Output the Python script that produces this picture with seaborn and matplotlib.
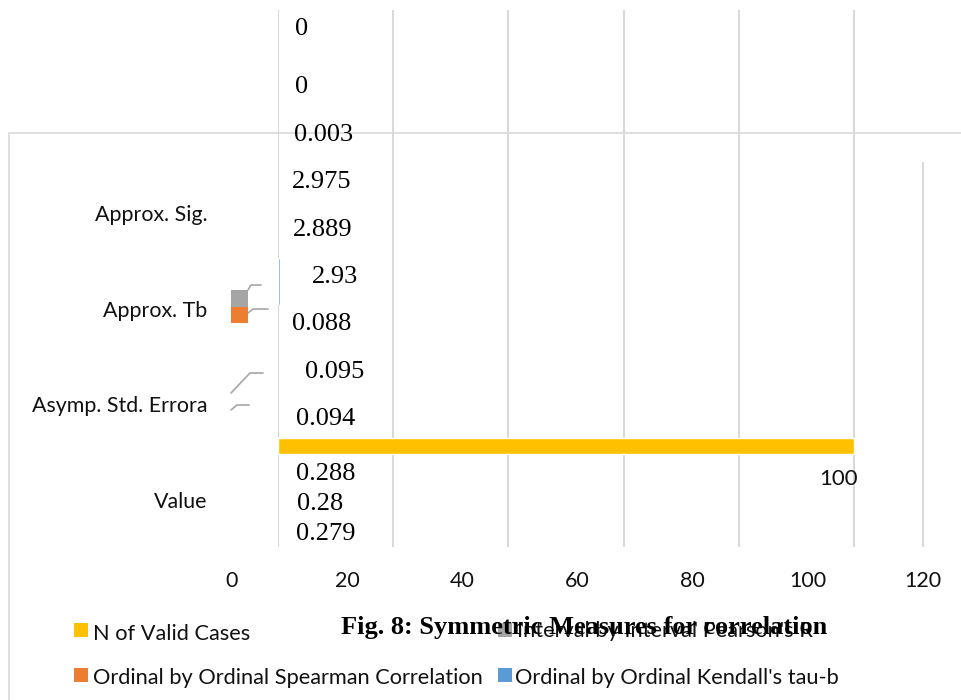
import numpy as np
import pandas as pd
import matplotlib
matplotlib.use("Agg")
import matplotlib.pyplot as plt
import matplotlib.transforms as mtransforms
from matplotlib.patches import Rectangle
from matplotlib.lines import Line2D
import seaborn as sns

# ---- data -------------------------------------------------------------
categories = ["Approx. Sig.", "Approx. Tb", "Asymp. Std. Errora", "Value"]
series = ["N of Valid Cases", "Interval by Interval Pearson's R",
          "Ordinal by Ordinal Spearman Correlation",
          "Ordinal by Ordinal Kendall's tau-b"]
series_colors = ["#FFC000", "#A5A5A5", "#ED7D31", "#5B9BD5"]

sig_values = [0, 0, 0.003]
tb_values = [2.975, 2.889, 2.93]
ase_values = [0.088, 0.095, 0.094]
value_values = [0.288, 0.28, 0.279]
n_valid = [100]
kendall_value = [0.279]

grid_values = [0, 20, 40, 60, 80, 100]
x_tick_labels = [0, 20, 40, 60, 80, 100, 120]

# ---- layout -----------------------------------------------------------
W, H = 962, 700
PLOT_L, PLOT_R, PLOT_T, PLOT_B = 278, 962, 10, 547
UNIT = 5.76          # pixels per x unit
TICK_SHIFT = 8       # the tick numbers sit left of their gridlines
GRID = "#D9D9D9"
TXT = "#111111"
SANS = ["Lato", "DejaVu Sans"]
SERIF = ["Liberation Serif", "DejaVu Serif"]

sns.set_theme(style="white")
plt.rcParams["font.family"] = SANS

fig = plt.figure(figsize=(W / 100, H / 100), dpi=100)
fig.patch.set_facecolor("white")


def fx(px):
    return px / W


def fy(py):
    return 1 - py / H


def strip_axes(a, xmax):
    a.set_xlim(0, xmax)
    for s in a.spines.values():
        s.set_visible(False)
    a.patch.set_visible(False)


def band_axes(top, bottom):
    return fig.add_axes([fx(PLOT_L), fy(bottom), (PLOT_R - PLOT_L) / W,
                         (bottom - top) / H])


xmax = (PLOT_R - PLOT_L) / UNIT

# main axes: gridlines and category labels
ax = band_axes(PLOT_T, PLOT_B)
strip_axes(ax, xmax)
ax.set_xticks(grid_values)
ax.grid(axis="x", color=GRID, lw=1.5)
ax.grid(axis="y", visible=False)
ax.tick_params(axis="x", length=0, labelbottom=False)
ax.set_ylim(3.49, -2.12)
ax.set_yticks(range(len(categories)), categories)
ax.tick_params(axis="y", length=0, pad=51, labelsize=15.4, labelcolor=TXT)
ax.axvline(x_tick_labels[-1] - TICK_SHIFT, ymin=0, ymax=(PLOT_B - 163) / (PLOT_B - PLOT_T),
           color=GRID, lw=1.5, zorder=0.5)

# x tick numbers
tick_tr = mtransforms.blended_transform_factory(ax.transData, fig.transFigure)
for v in x_tick_labels:
    ax.text(v - TICK_SHIFT, fy(587), f"{v}", transform=tick_tr, ha="center",
            va="baseline", fontsize=15.5, color=TXT, clip_on=False)

# N of Valid Cases bar
ax_n = band_axes(430, 462)
df_n = pd.DataFrame({"series": [series[0]], "value": n_valid})
sns.barplot(data=df_n, x="value", y="series", ax=ax_n, color=series_colors[0],
            saturation=1, width=0.5, orient="h")
strip_axes(ax_n, xmax)
ax_n.set_axis_off()

# Kendall's tau-b bar
ax_k = band_axes(258, 305)
df_k = pd.DataFrame({"series": [series[3]], "value": kendall_value})
sns.barplot(data=df_k, x="value", y="series", ax=ax_k, color=series_colors[3],
            saturation=1, width=1.0, orient="h")
strip_axes(ax_k, xmax)
ax_k.set_axis_off()

fig.text(fx(858), fy(485), f"{n_valid[0]}", ha="right", va="baseline",
         fontsize=16, color=TXT)

# data labels of the correlation measures
label_values = sig_values + tb_values + ase_values + value_values
label_x = [302, 302, 324, 322, 323, 335, 322, 335, 326, 326, 320, 326]
label_y = [26, 84, 132, 179, 227, 274, 321, 369, 416, 471, 501, 531]
for v, lx, ly in zip(label_values, label_x, label_y):
    fig.text(fx(lx), fy(ly + 9), f"{v:g}", ha="center", va="baseline",
             fontsize=19, family=SERIF, color="black", zorder=5)

# chart frame
frame_kw = dict(color=GRID, lw=1.2, transform=fig.transFigure, zorder=1)
fig.add_artist(Line2D([fx(9), fx(962)], [fy(133), fy(133)], **frame_kw))
fig.add_artist(Line2D([fx(9), fx(9)], [fy(133), fy(700)], **frame_kw))

# leader lines and keys beside the category labels
lead_kw = dict(color="#A6A6A6", lw=1.2, transform=fig.transFigure, zorder=3)
leaders = [
    [(248, 290), (251, 285), (261, 285)],
    [(248, 313), (253, 309), (268, 309)],
    [(231, 393), (250, 373), (263, 373)],
    [(231, 410), (237, 405), (249, 405)],
]
for pts in leaders:
    xs, ys = zip(*pts)
    fig.add_artist(Line2D([fx(x) for x in xs], [fy(y) for y in ys], **lead_kw))
fig.add_artist(Rectangle((fx(231), fy(307)), 17 / W, 17 / H, transform=fig.transFigure,
                         color=series_colors[1], lw=0, zorder=3))
fig.add_artist(Rectangle((fx(231), fy(323)), 17 / W, 16 / H, transform=fig.transFigure,
                         color=series_colors[2], lw=0, zorder=3))

# legend
legend_items = [
    (0, 74, 623, 93, 640),
    (1, 498, 623, 517, 637),
    (2, 74, 668, 93, 684),
    (3, 498, 668, 515, 684),
]
for idx, sx, sy, tx, ty in legend_items:
    fig.add_artist(Rectangle((fx(sx), fy(sy + 14)), 14 / W, 14 / H,
                             transform=fig.transFigure, color=series_colors[idx],
                             lw=0, zorder=3))
    fig.text(fx(tx), fy(ty), series[idx], ha="left", va="baseline",
             fontsize=15.7, color=TXT, zorder=3)

fig.text(fx(584), fy(634), "Fig. 8: Symmetric Measures for correlation",
         ha="center", va="baseline", fontsize=19, fontweight="bold",
         family=SERIF, color="black", zorder=6)

fig.savefig("out.png", dpi=100)
